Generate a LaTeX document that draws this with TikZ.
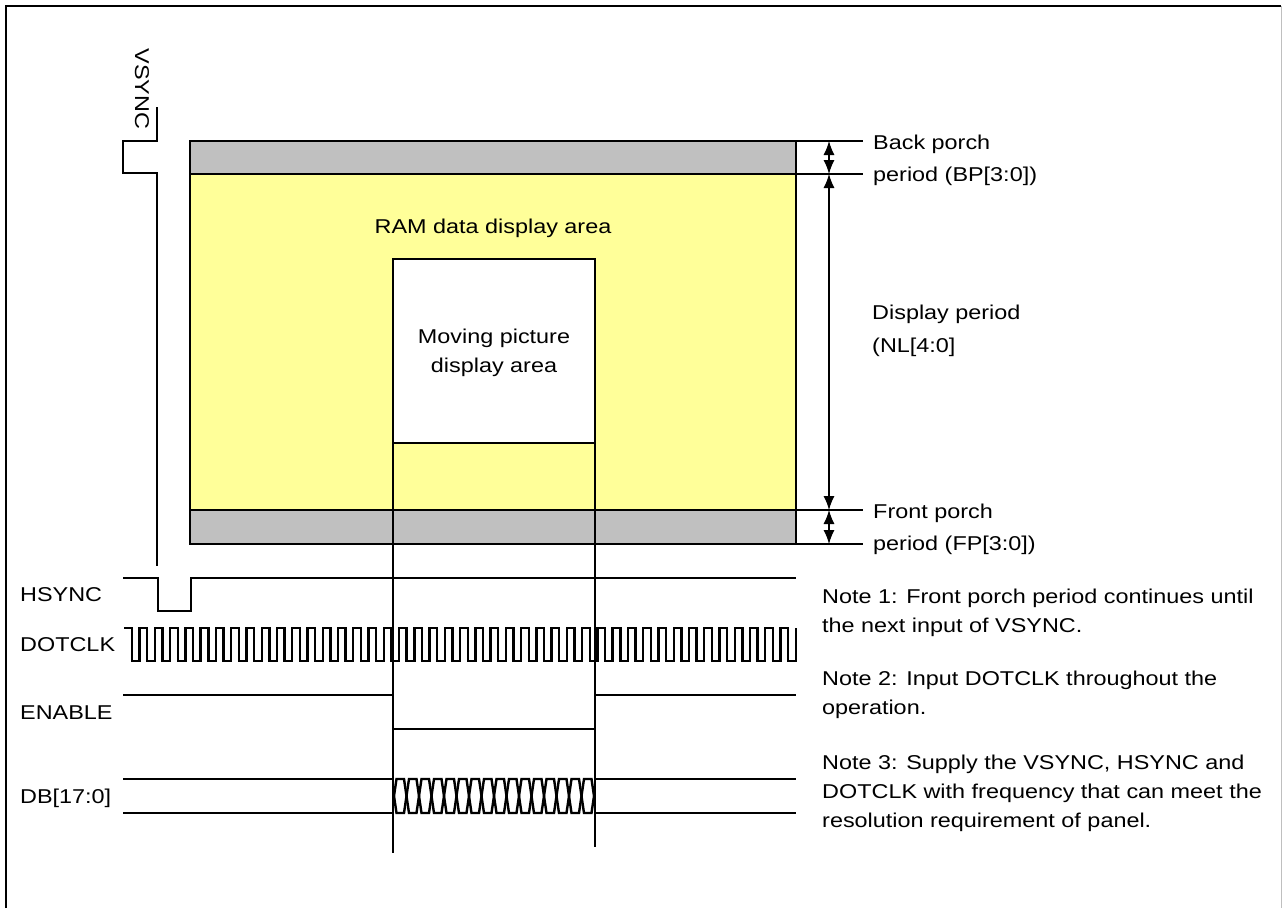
\documentclass[tikz,border=0pt]{standalone}
\usepackage{fontspec}
\setmainfont{Liberation Sans}[FakeStretch=1.17]
\usetikzlibrary{arrows.meta}
\definecolor{porch}{HTML}{C0C0C0}
\definecolor{ramyel}{HTML}{FFFF99}
\begin{document}
\begin{tikzpicture}[x=1pt,y=-1pt,
  wave/.style={line width=2.4pt, line join=miter},
  thinline/.style={line width=1.3pt},
  boxline/.style={line width=2.2pt},
  lbl/.style={anchor=base west, inner sep=0pt, font=\fontsize{20}{24}\selectfont},
  clbl/.style={anchor=base, inner sep=0pt, font=\fontsize{20}{24}\selectfont},
  dimarrow/.style={line width=1.2pt, {Latex[length=14pt,width=11pt]}-{Latex[length=14pt,width=11pt]}}
]
\useasboundingbox (0,0) rectangle (1282,908);
% frame
\draw[line width=2.6pt] (6,908) -- (6,6) -- (1281,6);
\draw[black!25, line width=1pt] (1281,6) -- (1281,908);

% panel areas
\draw[boxline, fill=porch] (190,141) rectangle (796,174);
\draw[boxline, fill=ramyel] (190,174) rectangle (796,510);
\draw[boxline, fill=porch] (190,510) rectangle (796,544);
\node[clbl] (ram) at (493,233) {RAM data display area};

% moving picture area
\draw[thinline, fill=white] (393,259) rectangle (595,443);
\node[clbl] (mp1) at (494,343) {Moving picture};
\node[clbl] (mp2) at (494,372) {display area};

% vertical guide lines
\coordinate (gl1) at (393,443);
\coordinate (gl1e) at (393,853);
\coordinate (gl2) at (595,443);
\coordinate (gl2e) at (595,847);
\draw[thinline] (gl1) -- (gl1e);
\draw[thinline] (gl2) -- (gl2e);

% VSYNC
\draw[wave] (157,107) -- (157,141) -- (123,141) -- (123,173) -- (157,173) -- (157,566);
\node[rotate=-90, inner sep=0pt, font=\fontsize{20}{24}\selectfont] (vs) at (142,89) {VSYNC};

% dimension lines
\coordinate (t1a) at (796,141); \coordinate (t1b) at (863,141);
\coordinate (t2a) at (796,174); \coordinate (t2b) at (863,174);
\coordinate (t3a) at (796,510); \coordinate (t3b) at (863,510);
\coordinate (t4a) at (796,544); \coordinate (t4b) at (863,544);
\draw[thinline] (t1a) -- (t1b);
\draw[thinline] (t2a) -- (t2b);
\draw[thinline] (t3a) -- (t3b);
\draw[thinline] (t4a) -- (t4b);
\coordinate (d1) at (829,141); \coordinate (d2) at (829,174);
\coordinate (d3) at (829,510); \coordinate (d4) at (829,544);
\draw[dimarrow] (d1) -- (d2);
\draw[dimarrow] (d2) -- (d3);
\draw[dimarrow] (d3) -- (d4);

\node[lbl] (bp1) at (873,149) {Back porch};
\node[lbl] (bp2) at (873,181) {period (BP[3:0])};
\node[lbl] (dp1) at (872,319) {Display period};
\node[lbl] (dp2) at (872,352) {(NL[4:0]};
\node[lbl] (fp1) at (873,518) {Front porch};
\node[lbl] (fp2) at (873,550) {period (FP[3:0])};

% HSYNC
\draw[wave] (123,578) -- (158,578) -- (158,611) -- (191,611) -- (191,578) -- (796,578);
\node[lbl] (hs) at (20,601) {HSYNC};

% DOTCLK
\draw[wave] (124,628) \foreach \k in {0,...,43} {
  -- ({132+\k*15.26},628) -- ({132+\k*15.26},661) -- ({132+\k*15.26+7.63},661) -- ({132+\k*15.26+7.63},628) };
\node[lbl] (dc) at (20,651) {DOTCLK};

% ENABLE
\draw[wave] (123,695) -- (393,695) -- (393,729) -- (595,729) -- (595,695) -- (796,695);
\node[lbl] (en) at (20,719) {ENABLE};

% DB[17:0]
\draw[wave] (123,779) -- (393,779);
\draw[wave] (123,813) -- (393,813);
\draw[wave] (595,779) -- (796,779);
\draw[wave] (595,813) -- (796,813);
\foreach \k in {0,...,15} {
  \draw[wave] ({394+\k*12.5},796) -- ({394+\k*12.5+2.5},779) -- ({394+(\k+1)*12.5-2.5},779) -- ({394+(\k+1)*12.5},796)
    -- ({394+(\k+1)*12.5-2.5},813) -- ({394+\k*12.5+2.5},813) -- cycle;
}
\node[lbl] (db) at (20,803) {DB[17:0]};

% notes
\node[lbl] (n1a) at (822,603) {Note 1: Front porch period continues until};
\node[lbl] (n1b) at (822,632) {the next input of VSYNC.};
\node[lbl] (n2a) at (822,685) {Note 2: Input DOTCLK throughout the};
\node[lbl] (n2b) at (822,714) {operation.};
\node[lbl] (n3a) at (822,769) {Note 3: Supply the VSYNC, HSYNC and};
\node[lbl] (n3b) at (822,798) {DOTCLK with frequency that can meet the};
\node[lbl] (n3c) at (822,827) {resolution requirement of panel.};
\end{tikzpicture}
\end{document}
